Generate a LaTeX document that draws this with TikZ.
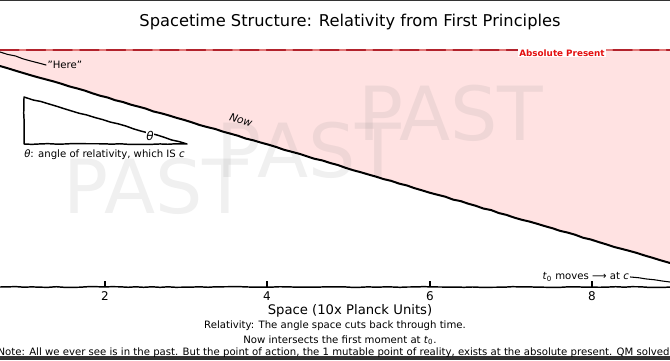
\documentclass[tikz,border=0pt]{standalone}
\usepackage{fontspec}
\setmainfont{DejaVu Sans}
\usepackage{tikz}
\usetikzlibrary{positioning, decorations.pathmorphing}
\definecolor{pastpink}{RGB}{255,226,226}
\definecolor{presentred}{RGB}{228,16,16}
\definecolor{darkred}{RGB}{178,34,44}
\definecolor{lightred}{RGB}{226,120,120}
\tikzset{
  wiggle/.style={decorate, decoration={random steps, segment length=6pt, amplitude=0.3pt}},
  pastmark/.style={text=gray, text opacity=0.12, font=\fontsize{56}{56}\selectfont, inner sep=0pt},
  tickmark/.style={line width=1.8pt, line cap=butt},
  smalltext/.style={font=\fontsize{7.6}{9}\selectfont, inner sep=1pt},
}

\begin{document}
\begin{tikzpicture}[x=0.75pt, y=-0.75pt, line cap=round, line join=round]
                \pgfmathsetseed{11}
                \useasboundingbox (0,0) rectangle (670,360);
                % dark bars at the top and bottom edge
                \fill[black!80] (0,0) rectangle (670,1.2);
                \fill[black!80] (0,356) rectangle (670,360);

                % title
                \node[font=\fontsize{12.2}{14}\selectfont] (title) at (350,22)
                  {Spacetime Structure: Relativity from First Principles};

                % corners of the plot and the ends of the now line
                \coordinate (pl) at (0,50);
                \coordinate (pr) at (670,50);
                \coordinate (nowl) at (0,66);
                \coordinate (nowr) at (670,263);

                % the past lies between the absolute present and now
                \fill[pastpink] (pl) -- (pr) -- (nowr) -- (nowl) -- cycle;

                \foreach \px/\py [count=\i] in {156/186, 309/150, 451/113}{
                  % faint watermark
                  \node[pastmark] (past\i) at (\px,\py) {PAST};
                }

                % absolute present, dashed along the top
                \draw[lightred, line width=1.3pt] (pl) -- (pr);
                \draw[darkred, line width=1.3pt, dash pattern=on 14pt off 6pt] (pl) -- (pr);
                \node[smalltext,
                      fill=white, % hide the line behind the text
                      text=presentred,
                      font=\fontsize{6.6}{8}\selectfont\bfseries,
                      inner sep=0.8pt] (present) at (562,53) {Absolute Present};

                % the now line
                \draw[wiggle, line width=1.5pt] (nowl) -- (nowr);
                \node[smalltext, font=\fontsize{8}{9}\selectfont\itshape, rotate=-16.5] (now) at (241,120) {Now};

                % here
                \coordinate (herept) at (0,52);
                \node[smalltext, anchor=west] (here) at (46,65) {\symbol{34}Here\symbol{34}};
                \draw[wiggle, line width=0.8pt] (here.west) -- (herept);

                % the triangle of the angle
                \coordinate (ta) at (24,97);
                \coordinate (tb) at (24,144);
                \coordinate (tc) at (187,144);
                \draw[wiggle, line width=1.1pt] (ta) -- (tb) -- (tc) -- cycle;
                \node[fill=white, inner sep=0.5pt, font=\fontsize{9}{10}\selectfont\itshape] (theta) at (150,136) {θ};
                \node[smalltext, below=3pt of tb, anchor=north west, xshift=-1pt] (thetacap)
                  {\textit{θ}: angle of relativity, which IS \textit{c}};

                % x axis
                \coordinate (axl) at (0,287);
                \coordinate (axr) at (670,287);
                \draw[wiggle, line width=1.1pt] (axl) -- (axr);
                \foreach \v/\px in {2/105, 4/267, 6/430, 8/592}{
                  \coordinate (tk\v) at (\px,287);
                  \draw[tickmark] (tk\v) -- ++(0,-6);
                  \node[font=\fontsize{9}{10}\selectfont, below=0pt of tk\v] (tl\v) {\v};
                }

                % t0 runs along the axis
                \node[smalltext, anchor=west] (tmove) at (541,277)
                  {\textit{t}\textsubscript{0} moves ⟶ at \textit{c}};
                \coordinate (tend) at (670,282);
                \draw[wiggle, line width=0.8pt] (tmove.east) -- (tend);

                % labels below the axis
                \node[font=\fontsize{9.9}{11}\selectfont] (xlabel) at (350,311) {Space (10x Planck Units)};
                \node[smalltext] (rel) at (335,326) {Relativity: The angle space cuts back through time.};
                \node[smalltext] (inter) at (340,340) {Now intersects the first moment at \textit{t}\textsubscript{0}.};
                \node[smalltext, anchor=west] (note) at (-4,353)
                  {Note: All we ever see is in the past. But the point of action, the 1 mutable point of reality, exists at the absolute present. QM solved};
            \end{tikzpicture}
\end{document}
